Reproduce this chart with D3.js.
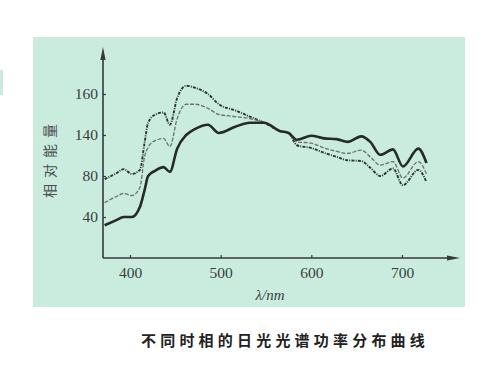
<!DOCTYPE html>
<html>
<head>
<meta charset="utf-8">
<script src="https://cdn.jsdelivr.net/npm/d3@7"></script>
<style>
  html, body { margin: 0; padding: 0; background: #fff; }
  svg { display: block; }
</style>
</head>
<body>
<svg id="chart" width="492" height="372"></svg>
<script>
// wavelength grid (nm) shared by the three curves
const wavelengths = [372, 385, 393, 402, 411, 416, 420, 428, 437, 444, 452, 462, 472, 486, 498, 516,
                     532, 548, 565, 575, 584, 600, 614, 628, 640, 655, 665, 676, 690, 701, 718, 727];

// relative energy in the axis' own labelled units
const solidSeries   = [32, 37, 40, 40, 50, 66, 80, 88, 93, 86, 120, 140, 143, 145, 141, 144,
                       146, 146, 142, 141, 133, 139, 135, 134, 130, 138, 130, 111, 119, 94, 120, 99];
const dashedSeries  = [54, 60, 63, 61, 69, 108, 122, 132, 135, 123, 148, 155, 155, 153, 150, 149,
                       148, 146, 142, 141, 130, 128, 121, 116, 113, 118, 108, 96, 101, 78, 101, 83];
const dashDotSeries = [77, 84, 90, 83, 89, 128, 146, 150, 151, 145, 158, 164, 163, 160, 155, 152,
                       149, 146, 142, 141, 125, 121, 114, 108, 103, 102, 92, 80, 91, 71, 89, 74];

// axis ticks as printed (the y labels are evenly spaced although they read 40, 80, 140, 160)
const xTicks  = [400, 500, 600, 700];
const yTicks  = [40, 80, 140, 160];

const xLabel  = 'λ/nm';
const yLabel  = '相对能量';
const caption = '不同时相的日光光谱功率分布曲线';

const svg = d3.select('#chart');

const axisColor = '#343a38';
const origin = {x: 103, y: 258};

// mint page behind the figure
svg.append('rect')
  .attr('x', 33).attr('y', 37)
  .attr('width', 432).attr('height', 270)
  .attr('fill', '#c9ecdf');
svg.append('rect')
  .attr('x', 0).attr('y', 70)
  .attr('width', 3).attr('height', 25)
  .attr('fill', '#c9ecdf');

const x = d3.scaleLinear()
  .domain([400, 700])
  .range([130, 402]);

// polylinear so that the evenly spaced labels sit where they are printed
const y = d3.scaleLinear()
  .domain([0, 40, 80, 140, 160])
  .range([origin.y, 217, 176, 135, 94]);

const g = svg.append('g');

// x axis
const xAxis = g.append('g')
  .attr('transform', `translate(0,${origin.y})`)
  .call(d3.axisBottom(x).tickValues(xTicks).tickSizeInner(-3).tickSizeOuter(0).tickPadding(9));
xAxis.select('.domain').remove();
g.append('line')
  .attr('x1', origin.x).attr('x2', 452)
  .attr('y1', origin.y).attr('y2', origin.y)
  .attr('stroke', axisColor).attr('stroke-width', 1.6);
g.append('path')
  .attr('d', `M460,${origin.y} L447,${origin.y - 2.6} L447,${origin.y + 2.6} Z`)
  .attr('fill', axisColor);

// y axis
const yAxis = g.append('g')
  .attr('transform', `translate(${origin.x},0)`)
  .call(d3.axisLeft(y).tickValues(yTicks).tickSizeInner(-3).tickSizeOuter(0).tickPadding(5));
yAxis.select('.domain').remove();
g.append('line')
  .attr('x1', origin.x).attr('x2', origin.x)
  .attr('y1', origin.y).attr('y2', 56)
  .attr('stroke', axisColor).attr('stroke-width', 1.6);
g.append('path')
  .attr('d', `M${origin.x},47 L${origin.x - 2.6},60 L${origin.x + 2.6},60 Z`)
  .attr('fill', axisColor);

g.selectAll('.tick line')
  .attr('stroke', axisColor).attr('stroke-width', 1.2);
g.selectAll('.tick text')
  .attr('fill', '#3a3f3d')
  .style('font-family', '"Liberation Serif", "DejaVu Serif", serif')
  .style('font-size', '15.5px');

// axis titles
g.append('text')
  .attr('x', 270).attr('y', 300)
  .attr('text-anchor', 'middle')
  .attr('fill', '#3a3f3d')
  .style('font-family', '"Liberation Serif", serif')
  .style('font-style', 'italic')
  .style('font-size', '15px')
  .text(xLabel);

g.append('text')
  .attr('transform', 'translate(55,158) rotate(-90)')
  .attr('text-anchor', 'middle')
  .attr('fill', '#4a4f4d')
  .style('font-family', '"Noto Sans CJK SC", sans-serif')
  .style('font-size', '14px')
  .style('letter-spacing', '6px')
  .text(yLabel);

// curves
const series = [
  {values: dashDotSeries, stroke: '#2e3331', width: 1.9, dash: '3,1.2,1,1.2'},
  {values: dashedSeries,  stroke: '#6b716e', width: 1.3, dash: '4,1.6'},
  {values: solidSeries,   stroke: '#262a28', width: 2.6, dash: null}
];

const line = d3.line()
  .x((d, i) => x(wavelengths[i]))
  .y(d => y(d))
  .curve(d3.curveMonotoneX);

g.selectAll('.curve')
  .data(series)
  .enter()
  .append('path')
  .attr('class', 'curve')
  .attr('d', d => line(d.values))
  .attr('fill', 'none')
  .attr('stroke', d => d.stroke)
  .attr('stroke-width', d => d.width)
  .attr('stroke-dasharray', d => d.dash)
  .attr('stroke-linejoin', 'round');

// caption under the figure
svg.append('text')
  .attr('x', 285).attr('y', 346)
  .attr('text-anchor', 'middle')
  .attr('fill', '#222')
  .style('font-family', '"Noto Sans CJK SC", sans-serif')
  .style('font-weight', 'bold')
  .style('font-size', '15px')
  .style('letter-spacing', '4.2px')
  .text(caption);
</script>
</body>
</html>
